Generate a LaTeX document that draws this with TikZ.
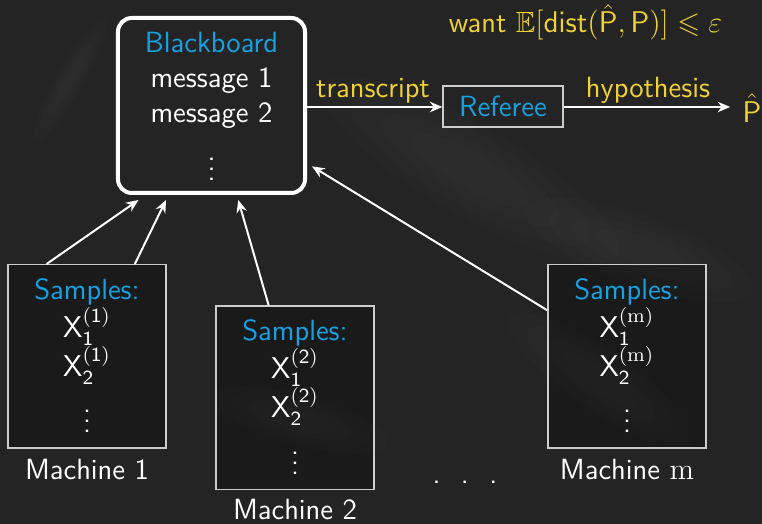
\documentclass[tikz,border=0pt]{standalone}
\usepackage{amssymb}
\usetikzlibrary{arrows.meta,calc}
\renewcommand{\familydefault}{\sfdefault}
\definecolor{boardbg}{RGB}{36,36,36}
\definecolor{chalkcyan}{RGB}{22,162,226}
\definecolor{chalkyellow}{RGB}{240,210,52}
\definecolor{framegray}{RGB}{205,205,205}
\newcommand{\smp}[2]{$\mathsf{X}_{\mathsf{#1}}^{(#2)}$}
\begin{document}
\begin{tikzpicture}[x=0.4pt,y=-0.4pt,
  every node/.style={font=\fontsize{11.7}{14}\selectfont,text=white,inner sep=0pt},
  bbox/.style={draw=white,line width=1.6pt,rounded corners=5.5pt,minimum width=74.8pt,minimum height=70pt},
  refbox/.style={draw=framegray,line width=0.5pt,minimum width=48pt,minimum height=16.4pt},
  machbox/.style={draw=framegray,line width=0.6pt,fill=black,fill opacity=0.25,minimum width=63.2pt,minimum height=73.4pt},
  cyantxt/.style={text=chalkcyan},
  yeltxt/.style={text=chalkyellow},
  arr/.style={draw=white,line width=0.8pt,-{Stealth[length=5pt,width=4.2pt]}},
  smudge/.style={fill=white,opacity=0.012}]
% board
\fill[boardbg] (0,0) rectangle (762,524);
\useasboundingbox (0,0) rectangle (762,524);
% faint chalk smudges, built from stacked ellipses so the edges stay soft
\foreach \r in {1,0.8,0.6,0.4}{
  \fill[smudge,rotate around={-30:(470,170)}] (470,170) ellipse [x radius=170*\r,y radius=45*\r];
  \fill[smudge,rotate around={-20:(640,250)}] (640,250) ellipse [x radius=120*\r,y radius=35*\r];
  \fill[smudge,rotate around={60:(70,80)}] (70,80) ellipse [x radius=70*\r,y radius=14*\r];
  \fill[smudge,rotate around={-15:(300,420)}] (300,420) ellipse [x radius=90*\r,y radius=25*\r];
  \fill[smudge,rotate around={-35:(600,380)}] (600,380) ellipse [x radius=110*\r,y radius=30*\r];
}

% blackboard
\node[bbox] (bb) at (211.5,105.5) {};
\node[cyantxt,anchor=base] (bbt) at (211.5,53) {Blackboard};
\node[anchor=base] (msg1) at (211.5,88) {message 1};
\node[anchor=base] (msg2) at (211.5,123) {message 2};
\node (bbdots) at (211.5,162) {$\vdots$};

% goal
\node[yeltxt,anchor=base] (goal) at (585.5,33)
  {want $\mathbb{E}[\mathsf{dist}(\hat{\mathsf{P}},\mathsf{P})]\leqslant\varepsilon$};

% referee
\node[refbox] (ref) at (503,106.5) {};
\node[cyantxt,anchor=base] (reft) at (503,117) {Referee};
\node[yeltxt] (phat) at (752,108) {$\hat{\mathsf{P}}$};
\draw[arr] (bb.east |- 0,107) -- (ref.west |- 0,107);
\draw[arr] (ref.east |- 0,107) -- ($(phat.west |- 0,107)+(-12,0)$);
\node[yeltxt,anchor=base] (trl) at (373,98) {transcript};
\node[yeltxt,anchor=base] (hyl) at (648,98) {hypothesis};

% machine 1
\node[machbox] (m1) at (87,356.5) {};
\node[cyantxt,anchor=base] (s1) at (87,300) {Samples:};
\node[anchor=base] (x11) at (87,338) {\smp{1}{\mathsf{1}}};
\node[anchor=base] (x12) at (87,377) {\smp{2}{\mathsf{1}}};
\node (d1) at (87,414) {$\vdots$};
\node[anchor=base] (n1) at (87,480) {Machine 1};

% machine 2
\node[machbox] (m2) at (295,398) {};
\node[cyantxt,anchor=base] (s2) at (295,341) {Samples:};
\node[anchor=base] (x21) at (295,379) {\smp{1}{\mathsf{2}}};
\node[anchor=base] (x22) at (295,418) {\smp{2}{\mathsf{2}}};
\node (d2) at (295,456) {$\vdots$};
\node[anchor=base] (n2) at (295,520) {Machine 2};

% machine m
\node[machbox] (mm) at (627,356.5) {};
\node[cyantxt,anchor=base] (sm) at (627,300) {Samples:};
\node[anchor=base] (xm1) at (627,338) {\smp{1}{\mathrm{m}}};
\node[anchor=base] (xm2) at (627,377) {\smp{2}{\mathrm{m}}};
\node (dm) at (627,414) {$\vdots$};
\node[anchor=base] (nm) at (627,480) {Machine $\mathrm{m}$};

% gap between machines
\node[anchor=base] (gap) at (465,484) {.\hspace{8.2pt}.\hspace{8.2pt}.};

% uploads to the blackboard
\draw[arr] ($(m1.north west)!0.247!(m1.north east)$) -- ($(bb.south west)!0.118!(bb.south east)+(0,5)$);
\draw[arr] ($(m1.north west)!0.80!(m1.north east)$) -- ($(bb.south west)!0.262!(bb.south east)+(0,5)$);
\draw[arr] ($(m2.north west)!0.335!(m2.north east)$) -- ($(bb.south west)!0.64!(bb.south east)+(0,5)$);
\draw[arr] ($(mm.north west)!0.25!(mm.south west)$) -- ($(bb.north east)!0.84!(bb.south east)+(5,0)$);
\end{tikzpicture}
\end{document}
